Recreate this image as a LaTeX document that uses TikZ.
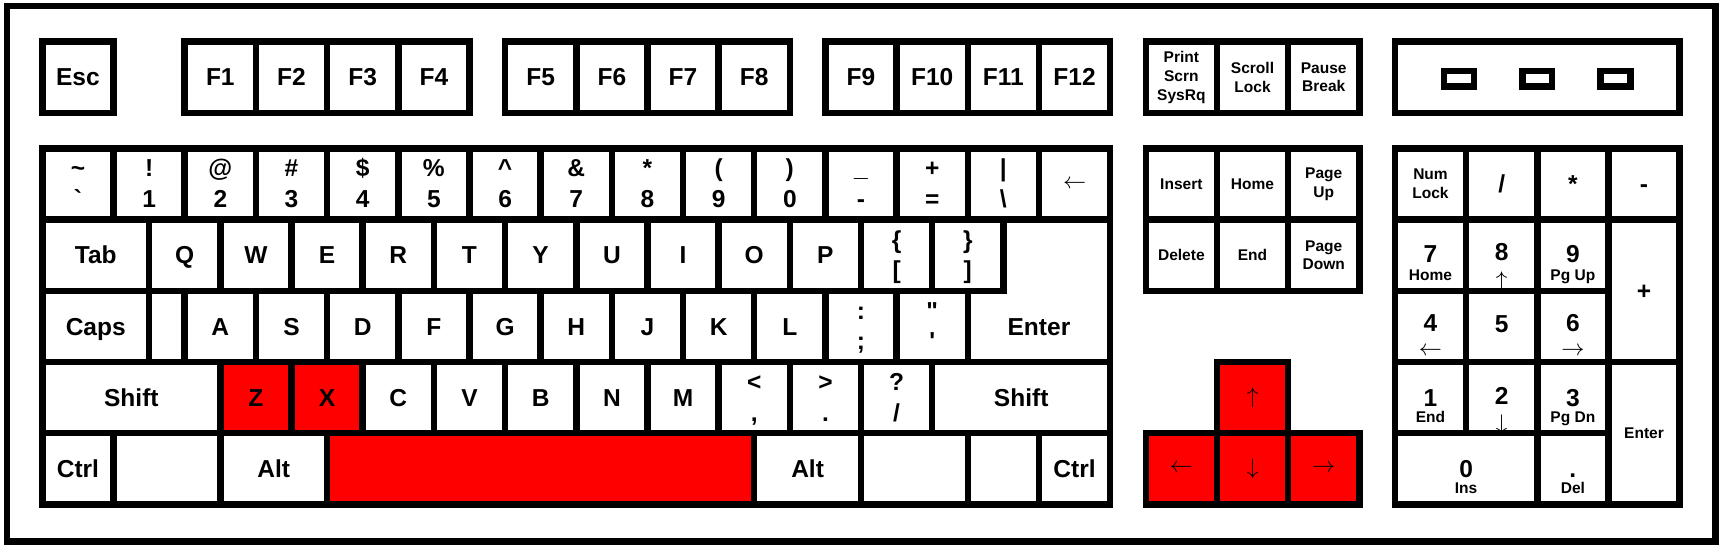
\documentclass[tikz,border=0pt]{standalone}
\usepackage{fontspec}
\newfontfamily\keyfont{Liberation Sans}
\begin{document}
\begin{tikzpicture}[x=1cm, y=-1cm, line width=2.6pt]
    \tikzstyle{key}=[draw, fill=white, minimum width=1cm, minimum height=1cm, inner sep=0pt,
      font=\keyfont\bfseries\fontsize{9.8}{11}\selectfont]
    \tikzstyle{one}=[key, text height=7pt, text depth=0pt]
    \tikzstyle{hotone}=[one, fill=red]
    \tikzstyle{sm}=[key, align=center, font=\keyfont\bfseries\fontsize{6.2}{7.5}\selectfont]
    \tikzstyle{toplab}=[anchor=base, inner sep=0pt, font=\keyfont\bfseries\fontsize{9.8}{11}\selectfont]
    \tikzstyle{sublab}=[anchor=base, inner sep=0pt, font=\keyfont\bfseries\fontsize{6.2}{7.5}\selectfont]
    \tikzstyle{arr}=[inner sep=0pt, font=\fontsize{9}{10}\selectfont]
    \tikzstyle{led}=[draw, minimum width=0.42cm, minimum height=0.22cm, inner sep=0pt]

    \path[use as bounding box, fill=white] (-0.595,-0.585) rectangle (23.595,7.1);
    \draw (-0.5,-0.5) rectangle (23.5,7.02);

    % function row
    \node[one] (esc) at (0.5,0.5) {Esc};
    \foreach \x [count=\i] in {2.5,3.5,4.5,5.5,7,8,9,10,11.5,12.5,13.5,14.5}
      \node[one] (f\i) at (\x,0.5) {F\i};
    \node[sm] (prt) at (16,0.5) {Print\\Scrn\\SysRq};
    \node[sm] (scr) at (17,0.5) {Scroll\\Lock};
    \node[sm] (pau) at (18,0.5) {Pause\\Break};
    \node[key, minimum width=4cm] (leds) at (21,0.5) {};
    \foreach \x [count=\i] in {19.9,21,22.1}
      \node[led] (led\i) at (\x,0.52) {};

    % number row
    \foreach \ts/\bs [count=\i from 0] in {\textasciitilde/`, !/1, @/2, \#/3, \$/4, \%/5,
        \textasciicircum/6, \&/7, */8, {(}/9, {)}/0, \_/-, +/=, |/\textbackslash} {
      \node[key] (n\i) at (\i+0.5,2) {};
      \node[toplab] (n\i-t) at (\i+0.5,1.9) {\ts};
      \node[toplab] (n\i-b) at (\i+0.5,2.33) {\bs};
    }
    \node[key, arr] (bksp) at (14.5,2) {$\leftarrow$};

    % top letter row
    \node[one, minimum width=1.5cm] (tab) at (0.75,3) {Tab};
    \foreach \c [count=\i from 2] in {Q,W,E,R,T,Y,U,I,O,P}
      \node[one] (\c) at (\i,3) {\c};
    \foreach \ts/\bs [count=\i from 12] in {\{/[, \}/]} {
      \node[key] (br\i) at (\i,3) {};
      \node[toplab] (br\i-t) at (\i,2.9) {\ts};
      \node[toplab] (br\i-b) at (\i,3.33) {\bs};
    }
    \draw[fill=white] (13.5,2.5) -- (15,2.5) -- (15,4.5) -- (13,4.5) -- (13,3.5) -- (13.5,3.5) -- cycle;
    \node[toplab, anchor=center, text height=7pt, text depth=0pt] (enter) at (14,4) {Enter};

    % home row
    \node[one, minimum width=1.5cm] (caps) at (0.75,4) {Caps};
    \node[key, minimum width=0.5cm] (gap) at (1.75,4) {};
    \foreach \c [count=\i from 2] in {A,S,D,F,G,H,J,K,L}
      \node[one] (\c) at (\i+0.5,4) {\c};
    \foreach \ts/\bs [count=\i from 11] in {:/;, "/'} {
      \node[key] (pu\i) at (\i+0.5,4) {};
      \node[toplab] (pu\i-t) at (\i+0.5,3.9) {\ts};
      \node[toplab] (pu\i-b) at (\i+0.5,4.33) {\bs};
    }

    % bottom letter row
    \node[one, minimum width=2.5cm] (lshift) at (1.25,5) {Shift};
    \node[hotone] (Z) at (3,5) {Z};
    \node[hotone] (X) at (4,5) {X};
    \foreach \c [count=\i from 5] in {C,V,B,N,M}
      \node[one] (\c) at (\i,5) {\c};
    \foreach \ts/\bs [count=\i from 10] in {</{,}, >/., ?/{/}} {
      \node[key] (pb\i) at (\i,5) {};
      \node[toplab] (pb\i-t) at (\i,4.9) {\ts};
      \node[toplab] (pb\i-b) at (\i,5.33) {\bs};
    }
    \node[one, minimum width=2.5cm] (rshift) at (13.75,5) {Shift};

    % space row
    \node[one] (lctrl) at (0.5,6) {Ctrl};
    \node[key, minimum width=1.5cm] (lwin) at (1.75,6) {};
    \node[one, minimum width=1.5cm] (lalt) at (3.25,6) {Alt};
    \node[key, fill=red, minimum width=6cm] (space) at (7,6) {};
    \node[one, minimum width=1.5cm] (ralt) at (10.75,6) {Alt};
    \node[key, minimum width=1.5cm] (rwin) at (12.25,6) {};
    \node[key] (menu) at (13.5,6) {};
    \node[one] (rctrl) at (14.5,6) {Ctrl};

    % editing keys and arrows
    \node[sm] (ins) at (16,2) {Insert};
    \node[sm] (home) at (17,2) {Home};
    \node[sm] (pgup) at (18,2) {Page\\Up};
    \node[sm] (del) at (16,3) {Delete};
    \node[sm] (end) at (17,3) {End};
    \node[sm] (pgdn) at (18,3) {Page\\Down};
    \node[key, fill=red, arr] (up) at (17,5) {$\uparrow$};
    \node[key, fill=red, arr] (left) at (16,6) {$\leftarrow$};
    \node[key, fill=red, arr] (down) at (17,6) {$\downarrow$};
    \node[key, fill=red, arr] (right) at (18,6) {$\rightarrow$};

    % keypad
    \node[sm] (numlk) at (19.5,2) {Num\\Lock};
    \node[one] (kdiv) at (20.5,2) {/};
    \node[one] (kmul) at (21.5,2) {*};
    \node[one] (ksub) at (22.5,2) {-};
    \node[one, minimum height=2cm] (kadd) at (22.5,3.5) {+};
    \node[sm, minimum height=2cm] (kent) at (22.5,5.5) {Enter};
    \foreach \d/\x/\y/\o in {7/19.5/3/0.1, 8/20.5/3/0.08, 9/21.5/3/0.1, 4/19.5/4/0.07, 5/20.5/4/0.08,
        6/21.5/4/0.07, 1/19.5/5/0.12, 2/20.5/5/0.1, 3/21.5/5/0.12} {
      \node[key] (p\d) at (\x,\y) {};
      \node[toplab] (p\d-t) at (\x,\y+\o) {\d};
    }
    \node[key, minimum width=2cm] (p0) at (20,6) {};
    \node[toplab] (p0-t) at (20,6.12) {0};
    \node[key] (pdot) at (21.5,6) {};
    \node[toplab] (pdot-t) at (21.5,6.12) {.};
    \foreach \s/\x/\y/\n in {Home/19.5/3/p7, Pg Up/21.5/3/p9, End/19.5/5/p1,
        Pg Dn/21.5/5/p3, Ins/20/6/p0, Del/21.5/6/pdot}
      \node[sublab] (\n-b) at (\x,\y+0.35) {\s};
    \node[arr] (p8-b) at (20.5,3.37) {$\uparrow$};
    \node[arr] (p4-b) at (19.5,4.35) {$\leftarrow$};
    \node[arr] (p6-b) at (21.5,4.35) {$\rightarrow$};
    \node[arr] (p2-b) at (20.5,5.38) {$\downarrow$};
\end{tikzpicture}
\end{document}
